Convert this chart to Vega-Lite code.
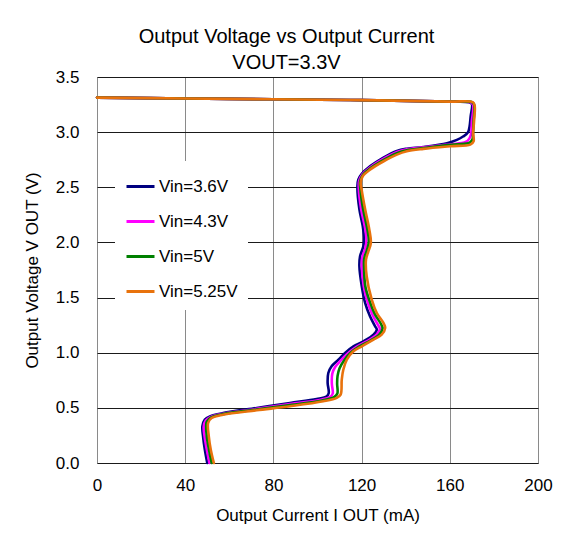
{
  "$schema": "https://vega.github.io/schema/vega-lite/v6.json",
  "autosize": {"type": "none"},
  "width": 441,
  "height": 386,
  "padding": {"left": 97, "top": 77, "right": 34, "bottom": 89},
  "background": "white",
  "title": {
    "text": ["Output Voltage vs Output Current", "VOUT=3.3V"],
    "fontSize": 20,
    "font": "Liberation Sans",
    "fontWeight": "normal",
    "color": "black",
    "lineHeight": 26,
    "anchor": "middle",
    "dx": -31,
    "dy": 13,
    "offset": 8
  },
  "config": {
    "view": {"stroke": "#8a8a8a", "strokeWidth": 1},
    "axis": {
      "labelFont": "Liberation Sans",
      "titleFont": "Liberation Sans",
      "labelFontSize": 17,
      "titleFontSize": 17,
      "titleFontWeight": "normal",
      "labelColor": "black",
      "titleColor": "black",
      "domain": false,
      "ticks": false,
      "labelFlush": false,
      "gridOpacity": 1,
      "gridWidth": 1
    }
  },
  "data": {
    "values": [
      {"s":"Vin=3.6V","k":0,"I":0,"V":3.313},
      {"s":"Vin=3.6V","k":1,"I":40,"V":3.305},
      {"s":"Vin=3.6V","k":2,"I":80,"V":3.298},
      {"s":"Vin=3.6V","k":3,"I":120,"V":3.29},
      {"s":"Vin=3.6V","k":4,"I":160,"V":3.277},
      {"s":"Vin=3.6V","k":5,"I":168.5,"V":3.272},
      {"s":"Vin=3.6V","k":6,"I":170,"V":3.255},
      {"s":"Vin=3.6V","k":7,"I":169.5,"V":3.15},
      {"s":"Vin=3.6V","k":8,"I":168.3,"V":3.0},
      {"s":"Vin=3.6V","k":9,"I":166,"V":2.96},
      {"s":"Vin=3.6V","k":10,"I":163.2,"V":2.93},
      {"s":"Vin=3.6V","k":11,"I":158.7,"V":2.9},
      {"s":"Vin=3.6V","k":12,"I":148,"V":2.866},
      {"s":"Vin=3.6V","k":13,"I":140.5,"V":2.85},
      {"s":"Vin=3.6V","k":14,"I":136,"V":2.83},
      {"s":"Vin=3.6V","k":15,"I":129.9,"V":2.77},
      {"s":"Vin=3.6V","k":16,"I":123.8,"V":2.69},
      {"s":"Vin=3.6V","k":17,"I":120,"V":2.62},
      {"s":"Vin=3.6V","k":18,"I":118.5,"V":2.57},
      {"s":"Vin=3.6V","k":19,"I":118.1,"V":2.51},
      {"s":"Vin=3.6V","k":20,"I":119,"V":2.3},
      {"s":"Vin=3.6V","k":21,"I":120.5,"V":2.15},
      {"s":"Vin=3.6V","k":22,"I":121.1,"V":2.03},
      {"s":"Vin=3.6V","k":23,"I":120.8,"V":1.965},
      {"s":"Vin=3.6V","k":24,"I":119.3,"V":1.874},
      {"s":"Vin=3.6V","k":25,"I":119,"V":1.784},
      {"s":"Vin=3.6V","k":26,"I":120.1,"V":1.6},
      {"s":"Vin=3.6V","k":27,"I":121.6,"V":1.451},
      {"s":"Vin=3.6V","k":28,"I":123.8,"V":1.33},
      {"s":"Vin=3.6V","k":29,"I":126.1,"V":1.24},
      {"s":"Vin=3.6V","k":30,"I":126.9,"V":1.21},
      {"s":"Vin=3.6V","k":31,"I":125.4,"V":1.164},
      {"s":"Vin=3.6V","k":32,"I":120.8,"V":1.103},
      {"s":"Vin=3.6V","k":33,"I":116.3,"V":1.058},
      {"s":"Vin=3.6V","k":34,"I":112.5,"V":0.998},
      {"s":"Vin=3.6V","k":35,"I":109.5,"V":0.937},
      {"s":"Vin=3.6V","k":36,"I":106.4,"V":0.877},
      {"s":"Vin=3.6V","k":37,"I":104.9,"V":0.816},
      {"s":"Vin=3.6V","k":38,"I":104.6,"V":0.726},
      {"s":"Vin=3.6V","k":39,"I":105.1,"V":0.635},
      {"s":"Vin=3.6V","k":40,"I":104.2,"V":0.605},
      {"s":"Vin=3.6V","k":41,"I":99.6,"V":0.58},
      {"s":"Vin=3.6V","k":42,"I":87.5,"V":0.544},
      {"s":"Vin=3.6V","k":43,"I":72.4,"V":0.499},
      {"s":"Vin=3.6V","k":44,"I":57.2,"V":0.453},
      {"s":"Vin=3.6V","k":45,"I":51.2,"V":0.423},
      {"s":"Vin=3.6V","k":46,"I":48.9,"V":0.393},
      {"s":"Vin=3.6V","k":47,"I":47.8,"V":0.333},
      {"s":"Vin=3.6V","k":48,"I":48.1,"V":0.242},
      {"s":"Vin=3.6V","k":49,"I":48.9,"V":0.121},
      {"s":"Vin=3.6V","k":50,"I":50,"V":0},

      {"s":"Vin=4.3V","k":0,"I":0,"V":3.313},
      {"s":"Vin=4.3V","k":1,"I":40,"V":3.305},
      {"s":"Vin=4.3V","k":2,"I":80,"V":3.298},
      {"s":"Vin=4.3V","k":3,"I":120,"V":3.29},
      {"s":"Vin=4.3V","k":4,"I":160,"V":3.277},
      {"s":"Vin=4.3V","k":5,"I":169,"V":3.272},
      {"s":"Vin=4.3V","k":6,"I":170.5,"V":3.25},
      {"s":"Vin=4.3V","k":7,"I":170,"V":3.1},
      {"s":"Vin=4.3V","k":8,"I":169.5,"V":2.97},
      {"s":"Vin=4.3V","k":9,"I":168,"V":2.92},
      {"s":"Vin=4.3V","k":10,"I":163,"V":2.895},
      {"s":"Vin=4.3V","k":11,"I":158,"V":2.885},
      {"s":"Vin=4.3V","k":12,"I":148,"V":2.862},
      {"s":"Vin=4.3V","k":13,"I":140.5,"V":2.845},
      {"s":"Vin=4.3V","k":14,"I":136,"V":2.82},
      {"s":"Vin=4.3V","k":15,"I":130,"V":2.76},
      {"s":"Vin=4.3V","k":16,"I":123.8,"V":2.68},
      {"s":"Vin=4.3V","k":17,"I":120.3,"V":2.615},
      {"s":"Vin=4.3V","k":18,"I":118.9,"V":2.56},
      {"s":"Vin=4.3V","k":19,"I":118.7,"V":2.5},
      {"s":"Vin=4.3V","k":20,"I":119.8,"V":2.3},
      {"s":"Vin=4.3V","k":21,"I":121.5,"V":2.14},
      {"s":"Vin=4.3V","k":22,"I":122.2,"V":2.02},
      {"s":"Vin=4.3V","k":23,"I":121.7,"V":1.95},
      {"s":"Vin=4.3V","k":24,"I":120.3,"V":1.865},
      {"s":"Vin=4.3V","k":25,"I":120.1,"V":1.78},
      {"s":"Vin=4.3V","k":26,"I":121,"V":1.6},
      {"s":"Vin=4.3V","k":27,"I":122.7,"V":1.46},
      {"s":"Vin=4.3V","k":28,"I":125,"V":1.34},
      {"s":"Vin=4.3V","k":29,"I":127.5,"V":1.25},
      {"s":"Vin=4.3V","k":30,"I":128.3,"V":1.215},
      {"s":"Vin=4.3V","k":31,"I":126.8,"V":1.165},
      {"s":"Vin=4.3V","k":32,"I":122.5,"V":1.105},
      {"s":"Vin=4.3V","k":33,"I":117.8,"V":1.055},
      {"s":"Vin=4.3V","k":34,"I":113.6,"V":0.99},
      {"s":"Vin=4.3V","k":35,"I":110.6,"V":0.93},
      {"s":"Vin=4.3V","k":36,"I":108,"V":0.87},
      {"s":"Vin=4.3V","k":37,"I":106.7,"V":0.81},
      {"s":"Vin=4.3V","k":38,"I":106.5,"V":0.72},
      {"s":"Vin=4.3V","k":39,"I":106.9,"V":0.63},
      {"s":"Vin=4.3V","k":40,"I":105.8,"V":0.6},
      {"s":"Vin=4.3V","k":41,"I":101,"V":0.572},
      {"s":"Vin=4.3V","k":42,"I":87.5,"V":0.535},
      {"s":"Vin=4.3V","k":43,"I":72.4,"V":0.491},
      {"s":"Vin=4.3V","k":44,"I":57.2,"V":0.447},
      {"s":"Vin=4.3V","k":45,"I":51.6,"V":0.418},
      {"s":"Vin=4.3V","k":46,"I":49.3,"V":0.385},
      {"s":"Vin=4.3V","k":47,"I":48.4,"V":0.33},
      {"s":"Vin=4.3V","k":48,"I":48.8,"V":0.24},
      {"s":"Vin=4.3V","k":49,"I":49.8,"V":0.12},
      {"s":"Vin=4.3V","k":50,"I":51,"V":0},

      {"s":"Vin=5V","k":0,"I":0,"V":3.313},
      {"s":"Vin=5V","k":1,"I":40,"V":3.305},
      {"s":"Vin=5V","k":2,"I":80,"V":3.298},
      {"s":"Vin=5V","k":3,"I":120,"V":3.29},
      {"s":"Vin=5V","k":4,"I":160,"V":3.277},
      {"s":"Vin=5V","k":5,"I":170,"V":3.272},
      {"s":"Vin=5V","k":6,"I":171,"V":3.25},
      {"s":"Vin=5V","k":7,"I":170.8,"V":3.1},
      {"s":"Vin=5V","k":8,"I":170.5,"V":2.98},
      {"s":"Vin=5V","k":9,"I":170.3,"V":2.935},
      {"s":"Vin=5V","k":10,"I":169,"V":2.905},
      {"s":"Vin=5V","k":11,"I":163,"V":2.89},
      {"s":"Vin=5V","k":12,"I":158,"V":2.88},
      {"s":"Vin=5V","k":13,"I":148,"V":2.855},
      {"s":"Vin=5V","k":14,"I":140.5,"V":2.836},
      {"s":"Vin=5V","k":15,"I":136,"V":2.81},
      {"s":"Vin=5V","k":16,"I":130,"V":2.748},
      {"s":"Vin=5V","k":17,"I":123.8,"V":2.67},
      {"s":"Vin=5V","k":18,"I":120.4,"V":2.607},
      {"s":"Vin=5V","k":19,"I":119.3,"V":2.55},
      {"s":"Vin=5V","k":20,"I":119.4,"V":2.49},
      {"s":"Vin=5V","k":21,"I":120.7,"V":2.3},
      {"s":"Vin=5V","k":22,"I":122.5,"V":2.13},
      {"s":"Vin=5V","k":23,"I":123.3,"V":2.01},
      {"s":"Vin=5V","k":24,"I":122.5,"V":1.935},
      {"s":"Vin=5V","k":25,"I":121.2,"V":1.855},
      {"s":"Vin=5V","k":26,"I":121.1,"V":1.77},
      {"s":"Vin=5V","k":27,"I":121.7,"V":1.6},
      {"s":"Vin=5V","k":28,"I":123.6,"V":1.47},
      {"s":"Vin=5V","k":29,"I":126,"V":1.35},
      {"s":"Vin=5V","k":30,"I":128.8,"V":1.26},
      {"s":"Vin=5V","k":31,"I":129.5,"V":1.22},
      {"s":"Vin=5V","k":32,"I":128,"V":1.165},
      {"s":"Vin=5V","k":33,"I":124,"V":1.11},
      {"s":"Vin=5V","k":34,"I":119,"V":1.057},
      {"s":"Vin=5V","k":35,"I":115,"V":1.0},
      {"s":"Vin=5V","k":36,"I":112.2,"V":0.935},
      {"s":"Vin=5V","k":37,"I":110,"V":0.86},
      {"s":"Vin=5V","k":38,"I":109.1,"V":0.79},
      {"s":"Vin=5V","k":39,"I":108.9,"V":0.72},
      {"s":"Vin=5V","k":40,"I":109,"V":0.63},
      {"s":"Vin=5V","k":41,"I":107.5,"V":0.597},
      {"s":"Vin=5V","k":42,"I":102,"V":0.566},
      {"s":"Vin=5V","k":43,"I":87.5,"V":0.525},
      {"s":"Vin=5V","k":44,"I":72.4,"V":0.485},
      {"s":"Vin=5V","k":45,"I":57.2,"V":0.443},
      {"s":"Vin=5V","k":46,"I":51.8,"V":0.413},
      {"s":"Vin=5V","k":47,"I":49.8,"V":0.375},
      {"s":"Vin=5V","k":48,"I":49.5,"V":0.33},
      {"s":"Vin=5V","k":49,"I":49.8,"V":0.24},
      {"s":"Vin=5V","k":50,"I":50.8,"V":0.12},
      {"s":"Vin=5V","k":51,"I":52,"V":0},

      {"s":"Vin=5.25V","k":0,"I":0,"V":3.313},
      {"s":"Vin=5.25V","k":1,"I":40,"V":3.305},
      {"s":"Vin=5.25V","k":2,"I":80,"V":3.298},
      {"s":"Vin=5.25V","k":3,"I":120,"V":3.29},
      {"s":"Vin=5.25V","k":4,"I":160,"V":3.277},
      {"s":"Vin=5.25V","k":5,"I":170.5,"V":3.271},
      {"s":"Vin=5.25V","k":6,"I":171.3,"V":3.235},
      {"s":"Vin=5.25V","k":7,"I":171,"V":3.1},
      {"s":"Vin=5.25V","k":8,"I":170.6,"V":2.99},
      {"s":"Vin=5.25V","k":9,"I":170.8,"V":2.917},
      {"s":"Vin=5.25V","k":10,"I":169.3,"V":2.887},
      {"s":"Vin=5.25V","k":11,"I":160.2,"V":2.872},
      {"s":"Vin=5.25V","k":12,"I":148,"V":2.848},
      {"s":"Vin=5.25V","k":13,"I":140.5,"V":2.826},
      {"s":"Vin=5.25V","k":14,"I":136,"V":2.796},
      {"s":"Vin=5.25V","k":15,"I":130,"V":2.736},
      {"s":"Vin=5.25V","k":16,"I":123.8,"V":2.66},
      {"s":"Vin=5.25V","k":17,"I":120.5,"V":2.6},
      {"s":"Vin=5.25V","k":18,"I":119.6,"V":2.54},
      {"s":"Vin=5.25V","k":19,"I":120,"V":2.48},
      {"s":"Vin=5.25V","k":20,"I":121.6,"V":2.3},
      {"s":"Vin=5.25V","k":21,"I":123.5,"V":2.116},
      {"s":"Vin=5.25V","k":22,"I":124.2,"V":1.995},
      {"s":"Vin=5.25V","k":23,"I":123.1,"V":1.92},
      {"s":"Vin=5.25V","k":24,"I":122,"V":1.844},
      {"s":"Vin=5.25V","k":25,"I":122.3,"V":1.693},
      {"s":"Vin=5.25V","k":26,"I":124.6,"V":1.481},
      {"s":"Vin=5.25V","k":27,"I":126.9,"V":1.36},
      {"s":"Vin=5.25V","k":28,"I":129.9,"V":1.27},
      {"s":"Vin=5.25V","k":29,"I":130.7,"V":1.224},
      {"s":"Vin=5.25V","k":30,"I":129.1,"V":1.164},
      {"s":"Vin=5.25V","k":31,"I":125.4,"V":1.118},
      {"s":"Vin=5.25V","k":32,"I":120.1,"V":1.058},
      {"s":"Vin=5.25V","k":33,"I":116.3,"V":1.013},
      {"s":"Vin=5.25V","k":34,"I":113.3,"V":0.937},
      {"s":"Vin=5.25V","k":35,"I":111.7,"V":0.846},
      {"s":"Vin=5.25V","k":36,"I":111,"V":0.756},
      {"s":"Vin=5.25V","k":37,"I":110.5,"V":0.62},
      {"s":"Vin=5.25V","k":38,"I":108.7,"V":0.59},
      {"s":"Vin=5.25V","k":39,"I":102.6,"V":0.559},
      {"s":"Vin=5.25V","k":40,"I":87.5,"V":0.514},
      {"s":"Vin=5.25V","k":41,"I":72.4,"V":0.478},
      {"s":"Vin=5.25V","k":42,"I":57.2,"V":0.438},
      {"s":"Vin=5.25V","k":43,"I":52,"V":0.408},
      {"s":"Vin=5.25V","k":44,"I":50.4,"V":0.363},
      {"s":"Vin=5.25V","k":45,"I":50.7,"V":0.242},
      {"s":"Vin=5.25V","k":46,"I":51.6,"V":0.121},
      {"s":"Vin=5.25V","k":47,"I":53,"V":0}
    ]
  },
  "mark": {"type": "line", "strokeWidth": 2.6, "interpolate": "catmull-rom", "strokeJoin": "round", "strokeCap": "round"},
  "encoding": {
    "x": {
      "field": "I", "type": "quantitative",
      "scale": {"domain": [0, 200], "nice": false, "zero": false},
      "axis": {
        "values": [0, 40, 80, 120, 160, 200],
        "title": "Output Current I OUT (mA)",
        "gridColor": "#8a8a8a",
        "labelPadding": 14,
        "titlePadding": 14
      }
    },
    "y": {
      "field": "V", "type": "quantitative",
      "scale": {"domain": [0, 3.5], "nice": false, "zero": false},
      "axis": {
        "values": [0, 0.5, 1, 1.5, 2, 2.5, 3, 3.5],
        "format": ".1f",
        "title": "Output Voltage V OUT (V)",
        "gridColor": "#1a1a1a",
        "labelPadding": 18,
        "titlePadding": 14
      }
    },
    "color": {
      "field": "s", "type": "nominal",
      "scale": {
        "domain": ["Vin=3.6V", "Vin=4.3V", "Vin=5V", "Vin=5.25V"],
        "range": ["#000080", "#ff00ff", "#008000", "#e8720c"]
      },
      "legend": {
        "title": null,
        "orient": "none",
        "legendX": 18,
        "legendY": 84,
        "padding": 10,
        "fillColor": "white",
        "strokeColor": null,
        "symbolType": "stroke",
        "symbolSize": 784,
        "symbolStrokeWidth": 3,
        "labelFont": "Liberation Sans",
        "labelFontSize": 17,
        "labelColor": "black",
        "labelOffset": 3,
        "rowPadding": 11
      }
    },
    "order": {"field": "k", "type": "quantitative"}
  }
}
